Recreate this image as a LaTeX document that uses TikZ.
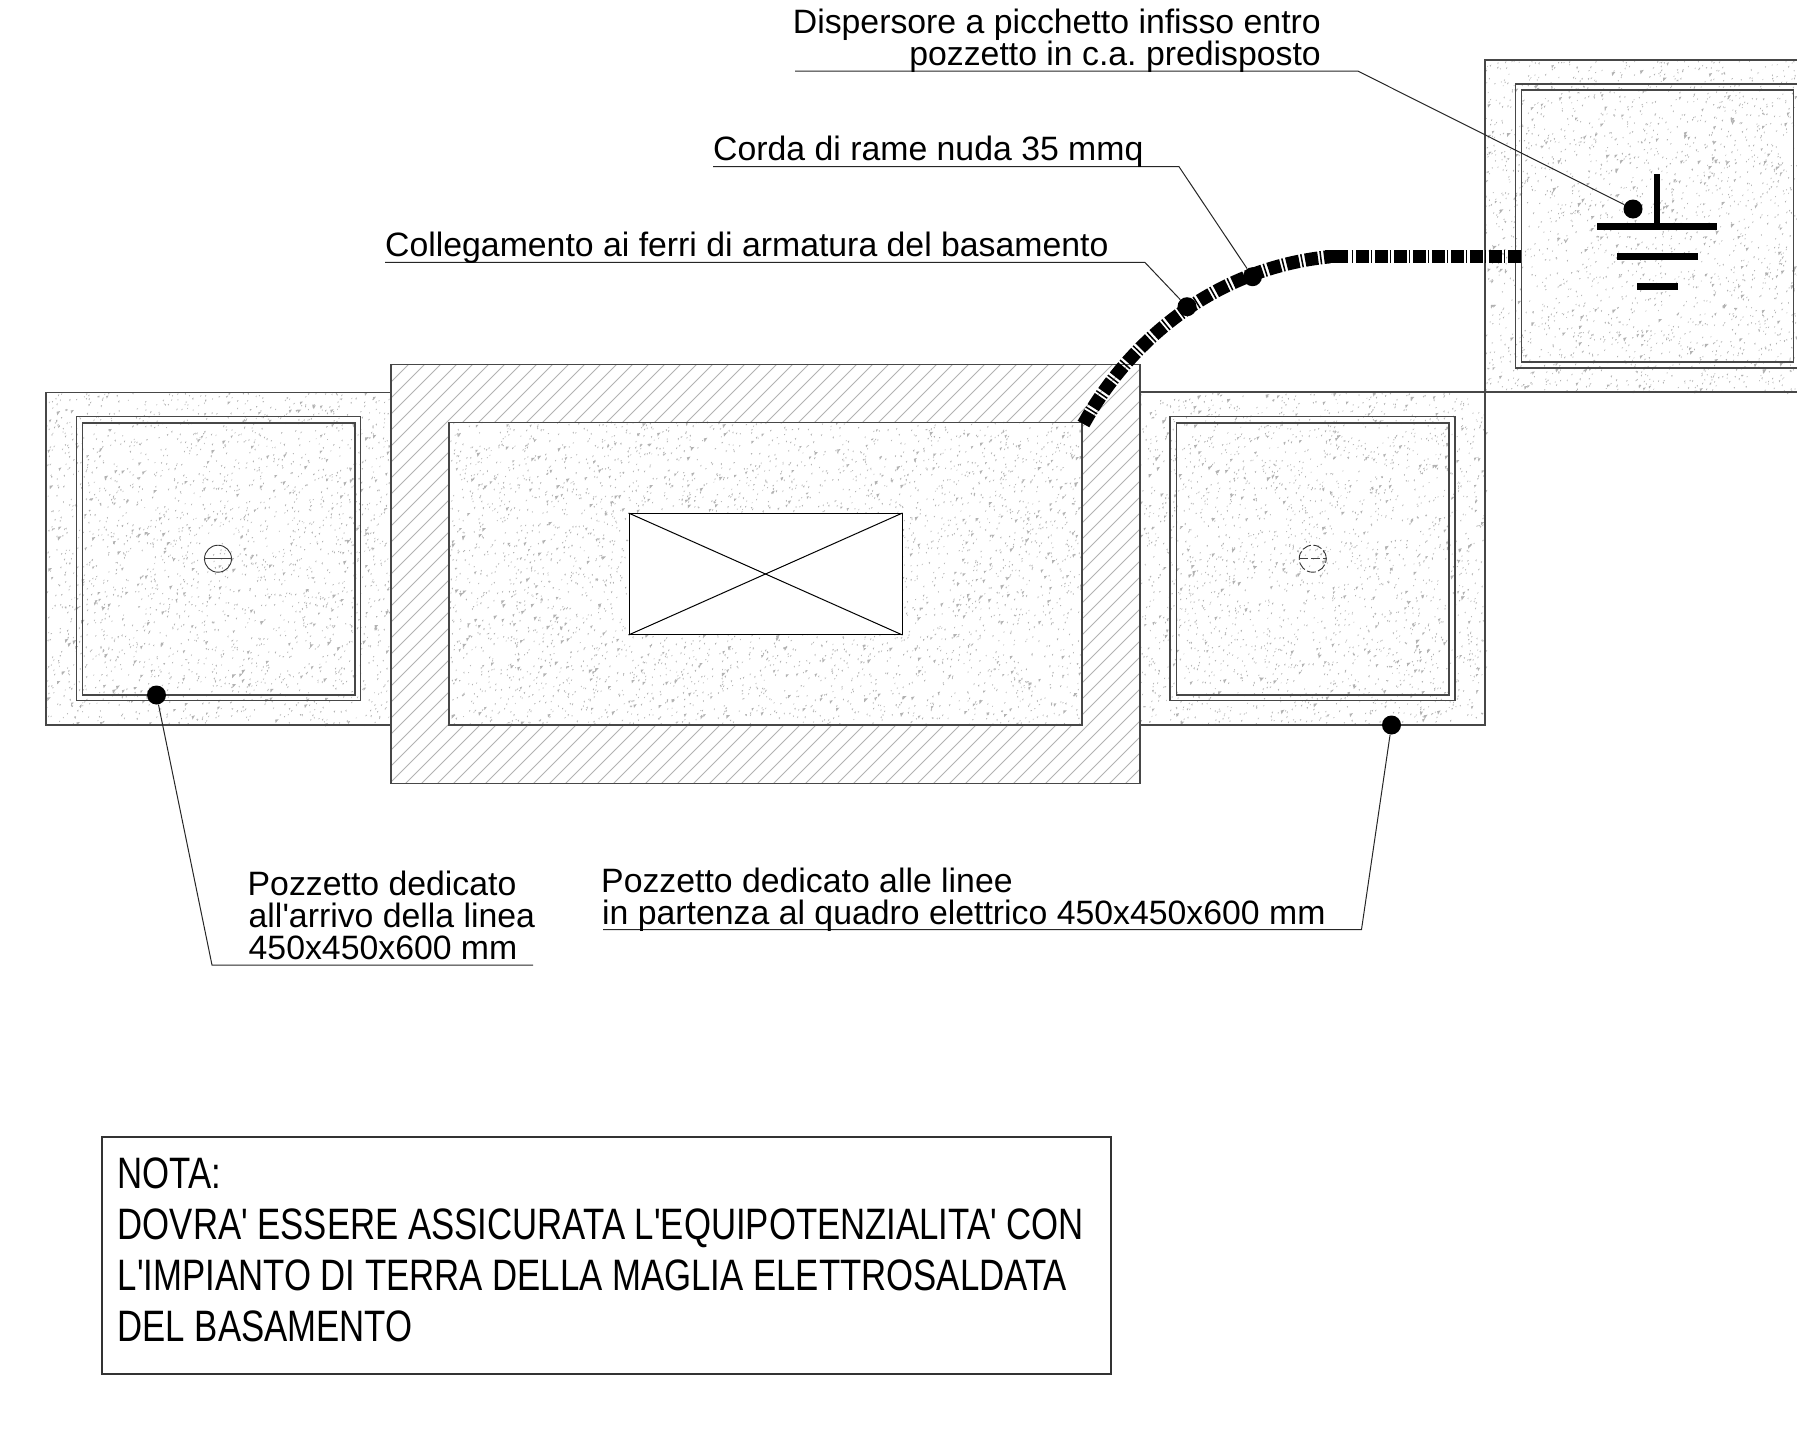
\documentclass[tikz,border=0pt]{standalone}
\usepackage{fontspec}
\setmainfont{Liberation Sans}
\newfontfamily\labfont{Liberation Sans}
\newfontfamily\narrowfont[FakeStretch=0.79]{Liberation Sans}
\tikzset{
  wire/.style={draw=black!72,line width=1.2pt},
  thinwire/.style={draw=black,line width=1pt},
  leader/.style={draw=black!85,line width=1pt},
  blob/.style={circle,fill=black,inner sep=0pt,minimum size=19pt},
  lab/.style={inner sep=0pt,font=\fontsize{33.8}{32}\selectfont\labfont\frenchspacing,anchor=base west},
  labr/.style={inner sep=0pt,font=\fontsize{33.8}{32}\selectfont\labfont\frenchspacing,anchor=base east},
  notatxt/.style={inner sep=0pt,font=\fontsize{44}{51}\selectfont\narrowfont\frenchspacing,anchor=base west},
  gbar/.style={fill=black},
  cord/.style={draw=black,line width=13.3pt},
  cordd/.style={cord,dash pattern=on 13pt off 2pt on 1.5pt off 2.5pt},
  cordt/.style={cord,dash pattern=on 1.5pt off 3pt on 12.5pt off 2pt},
  hatchline/.style={draw=black!30,line width=1pt}
}
\makeatletter
\newdimen\stpx \newdimen\stpy \newdimen\stpa \newdimen\stpb
\newcommand{\stip}[5]{% x0 y0 w h count
  \begin{pgfscope}
  \pgfsetfillcolor{black!30}
  \foreach \i in {1,...,#5}{
    \pgfmathsetmacro{\sx}{#1+rnd*#3}
    \pgfmathsetmacro{\sy}{#2+rnd*#4}
    \pgfmathsetmacro{\ss}{1+0.6*rnd+(rnd>0.9)*(1+1.4*rnd)}
    \pgfmathsetmacro{\st}{rnd}
    \stpx=\sx pt \stpy=-\sy pt
    \pgfsys@moveto{\stpx}{\stpy}
    \stpa=\stpx \advance\stpa by \ss pt
    \stpb=\stpy \advance\stpb by \st pt
    \pgfsys@lineto{\stpa}{\stpb}
    \stpa=\stpx \advance\stpa by \st pt
    \stpb=\stpy \advance\stpb by -\ss pt
    \pgfsys@lineto{\stpa}{\stpb}
    \pgfsys@closepath
  }
  \pgfsys@fill
  \end{pgfscope}}
\makeatother
\begin{document}
\begin{tikzpicture}[x=1pt,y=-1pt]
\useasboundingbox (0,0) rectangle (1797,1430);
\pgfmathsetseed{4711}
% hatched frame
\begin{scope}
  \clip (391,364.5) rectangle (1140,783.5);
  \foreach \k in {0,16,...,1190}{
    \draw[hatchline] (391+\k-440,790) -- ++(440,-440);
  }
\end{scope}
\fill[white] (449,422.5) rectangle (1082,725);
% stipple areas
\stip{46}{393}{345}{332}{2400}
\stip{1140}{393}{345}{332}{2400}
\stip{1485}{60}{312}{332}{2200}
\stip{449}{422}{633}{303}{4000}
% central equipment
\node[draw=black,line width=1pt,fill=white,minimum width=273pt,minimum height=121pt,inner sep=0pt] (eq) at (765.5,574) {};
\draw[thinwire] (eq.north west) -- (eq.south east);
\draw[thinwire] (eq.south west) -- (eq.north east);
% outlines
\draw[wire] (391,392.5) -- (46,392.5) -- (46,725) -- (391,725);
\draw[wire] (391,364.5) rectangle (1140,783.5);
\draw[wire] (449,422.5) rectangle (1082,725);
\draw[wire] (1140,392) -- (1797,392);
\draw[wire] (1140,725) -- (1485,725) -- (1485,392);
\draw[wire] (1797,60) -- (1485,60) -- (1485,392);
% pits
\draw[wire] (76.7,416.7) rectangle (360.7,700.7);
\draw[wire] (82.7,423) rectangle (355,695);
\draw[wire] (1170,416.5) rectangle (1455,700.7);
\draw[wire] (1176.5,423) rectangle (1449,695);
\draw[wire] (1797,84) -- (1515.6,84) -- (1515.6,368) -- (1797,368);
\draw[wire] (1793.7,90) -- (1521.4,90) -- (1521.4,362) -- (1793.7,362) -- cycle;
% covers
\node[circle,draw=black!80,line width=0.9pt,minimum size=27pt,inner sep=0pt] (c1) at (218,558.7) {};
\draw[wire] (c1.west) -- (c1.east);
\node[circle,draw=black!80,line width=0.9pt,dash pattern=on 9pt off 2.5pt,minimum size=27pt,inner sep=0pt] (c2) at (1312.7,558.7) {};
\draw[wire,dash pattern=on 9pt off 3pt] (c2.west) -- (c2.east);
% earth symbol
\fill[gbar] (1654,174) rectangle (1660,224);
\fill[gbar] (1596.7,222.7) rectangle (1717.4,230);
\fill[gbar] (1617,252.7) rectangle (1697.7,260);
\fill[gbar] (1637,283) rectangle (1678,290);
% rope
\draw[cordd] (1083.5,424) .. controls (1130,340) and (1215,268) .. (1330,256.7);
\draw[cord] (1325,256.7) -- (1348,256.7);
\draw[cordt] (1351.5,256.7) -- (1522,256.7);
% dots
\node[blob] (d1) at (1633,209) {};
\node[blob] (d2) at (1252.5,276.7) {};
\node[blob] (d3) at (1187,306.7) {};
\node[blob] (d4) at (156.5,695) {};
\node[blob] (d5) at (1391.5,725) {};
% leaders
\coordinate (k1) at (795,71); \coordinate (b1) at (1357.7,71);
\coordinate (k2) at (713,166.7); \coordinate (b2) at (1179,166.7);
\coordinate (k3) at (385,262.3); \coordinate (b3) at (1144.8,262.3);
\coordinate (k4) at (533,965); \coordinate (b4) at (212,965);
\coordinate (k5) at (603,929.5); \coordinate (b5) at (1361.5,929.5);
\draw[leader] (k1) -- (b1) -- (d1);
\draw[leader] (k2) -- (b2) -- (d2);
\draw[leader] (k3) -- (b3) -- (d3);
\draw[leader] (k4) -- (b4) -- (d4);
\draw[leader] (k5) -- (b5) -- (d5);
% labels
\node[labr] (t1) at (1321,33.5) {Dispersore a picchetto infisso entro};
\node[labr] (t2) at (1321,65.5) {pozzetto in c.a. predisposto};
\node[lab] (t3) at (713,160.5) {Corda di rame nuda 35 mmq};
\node[lab] (t4) at (385,256.5) {Collegamento ai ferri di armatura del basamento};
\node[lab] (t5) at (247.5,895.5) {Pozzetto dedicato};
\node[lab] (t6) at (248.5,927.5) {all'arrivo della linea};
\node[lab] (t7) at (248.5,959.5) {450x450x600 mm};
\node[lab] (t8) at (601,892) {Pozzetto dedicato alle linee};
\node[lab] (t9) at (602,924.5) {in partenza al quadro elettrico 450x450x600 mm};
% note
\node[draw=black!80,line width=1.1pt,minimum width=1009pt,minimum height=237pt,inner sep=0pt] (nb) at (606.5,1255.5) {};
\node[notatxt] (n1) at (117.5,1188) {NOTA:};
\node[notatxt] (n2) at (117.5,1239) {DOVRA' ESSERE ASSICURATA L'EQUIPOTENZIALITA' CON};
\node[notatxt] (n3) at (117.5,1290) {L'IMPIANTO DI TERRA DELLA MAGLIA ELETTROSALDATA};
\node[notatxt] (n4) at (117.5,1341) {DEL BASAMENTO};
\end{tikzpicture}
\end{document}
